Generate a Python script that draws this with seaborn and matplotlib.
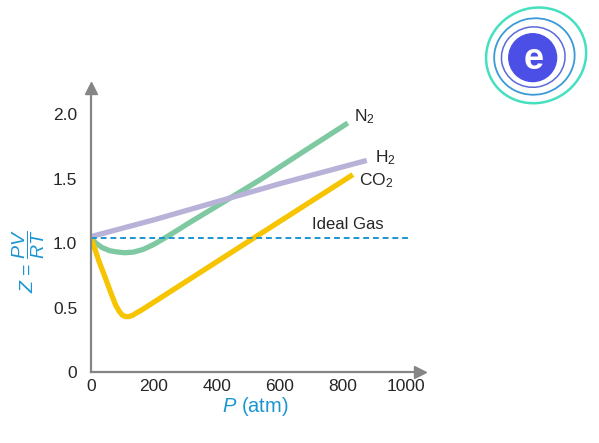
import matplotlib
matplotlib.use("Agg")
import matplotlib.pyplot as plt
import seaborn as sns
import pandas as pd
from matplotlib.patches import Circle, Ellipse

# values
n2_p = [0, 15, 35, 60, 85, 108, 135, 165, 200, 235, 275, 314, 416, 537, 663, 816]
n2_z = [1.04, 1.00, 0.965, 0.94, 0.93, 0.925, 0.93, 0.95, 0.99, 1.04, 1.10, 1.16, 1.31, 1.49, 1.69, 1.93]
h2_p = [0, 200, 400, 600, 876]
h2_z = [1.05, 1.18, 1.32, 1.46, 1.64]
co2_p = [0, 10, 25, 44, 62, 78, 90, 100, 110, 120, 132, 145, 160, 505, 832]
co2_z = [1.04, 0.97, 0.86, 0.74, 0.62, 0.52, 0.47, 0.44, 0.43, 0.43, 0.44, 0.46, 0.48, 1.02, 1.53]
ideal_p = [0, 1013]
ideal_z = [1.04, 1.04]

x_ticks = [0, 200, 400, 600, 800, 1000]
y_ticks = [0, 0.5, 1.0, 1.5, 2.0]
y_tick_labels = ["0", "0.5", "1.0", "1.5", "2.0"]

sns.set_style("white")
plt.rcParams["font.family"] = ["Liberation Sans", "DejaVu Sans"]
plt.rcParams["mathtext.fontset"] = "custom"
plt.rcParams["mathtext.rm"] = "Liberation Sans"
plt.rcParams["mathtext.it"] = "Liberation Sans:italic"

AXIS = "#858585"
BLUE = "#1b95d2"
TXT = "#262626"

fig = plt.figure(figsize=(5.99, 4.43), dpi=100)
ax = fig.add_axes([0.152, 0.160, 0.549, 0.641])

curves = [
  (n2_p, n2_z, "#7ec8a2"),
  (h2_p, h2_z, "#b8b2d8"),
  (co2_p, co2_z, "#f6c400"),
]
for p, z, col in curves:
  df = pd.DataFrame({"P": p, "Z": z})
  sns.lineplot(data=df, x="P", y="Z", ax=ax, color=col, linewidth=3.8,
               sort=False, solid_capstyle="butt", solid_joinstyle="round")

ideal = pd.DataFrame({"P": ideal_p, "Z": ideal_z})
sns.lineplot(data=ideal, x="P", y="Z", ax=ax, color=BLUE, linewidth=1.4,
             linestyle=(0, (3, 2)))

ax.set_xlim(0, 1045)
ax.set_ylim(0, 2.2)
ax.set_xticks(x_ticks)
ax.set_xticklabels([str(t) for t in x_ticks])
ax.set_yticks(y_ticks)
ax.set_yticklabels(y_tick_labels)
ax.tick_params(axis="both", direction="in", length=6, width=1.2, color=AXIS,
               labelsize=12.5, labelcolor=TXT)
ax.tick_params(axis="x", pad=5)
ax.tick_params(axis="y", pad=10)

for s in ["top", "right"]:
  ax.spines[s].set_visible(False)
for s in ["left", "bottom"]:
  ax.spines[s].set_color(AXIS)
  ax.spines[s].set_linewidth(1.6)

# arrow heads
ax.plot([0], [1], marker="^", markersize=8, color=AXIS, transform=ax.transAxes, clip_on=False)
ax.plot([1], [0], marker=">", markersize=8, color=AXIS, transform=ax.transAxes, clip_on=False)

ax.set_xlabel(r"$\it{P}$ (atm)", color=BLUE, fontsize=14.5, labelpad=1)
ax.set_ylabel(r"$Z$ = $\dfrac{PV}{RT}$", color=BLUE, fontsize=14, labelpad=6)
ax.yaxis.set_label_coords(-0.135, 0.39)

ax.text(835, 1.98, r"N$_2$", fontsize=12.5, va="center", color=TXT)
ax.text(902, 1.66, r"H$_2$", fontsize=12.5, va="center", color=TXT)
ax.text(852, 1.48, r"CO$_2$", fontsize=12.5, va="center", color=TXT)
ax.text(815, 1.14, "Ideal Gas", fontsize=12, ha="center", va="center", color=TXT)

# logo
lg = fig.add_axes([0.80, 0.745, 0.19, 0.26])
lg.set_xlim(-1, 1)
lg.set_ylim(-1, 1)
lg.set_aspect("equal")
lg.axis("off")
lg.add_patch(Ellipse((0, 0), 1.78, 1.66, angle=25, fill=False, ec="#45e0c0", lw=1.8))
lg.add_patch(Ellipse((-0.03, -0.02), 1.42, 1.34, angle=15, fill=False, ec="#3a9ad8", lw=1.3))
lg.add_patch(Ellipse((-0.05, -0.03), 1.12, 1.06, angle=10, fill=False, ec="#5a6ad8", lw=1.1))
lg.add_patch(Circle((-0.06, -0.04), 0.42, color="#4b4fe6"))
lg.text(-0.05, -0.07, "e", color="white", fontsize=26, fontweight="bold",
        ha="center", va="center")

fig.savefig("out.png", dpi=100)
